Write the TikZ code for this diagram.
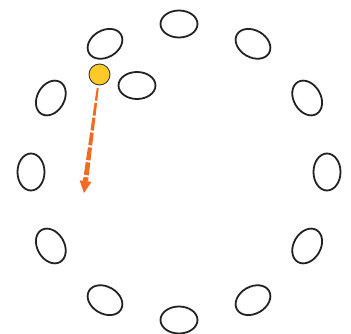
\documentclass[tikz,border=0pt]{standalone}
\usetikzlibrary{shapes.geometric,arrows.meta,calc}
\definecolor{ringcol}{HTML}{222222}
\definecolor{ballfill}{HTML}{FFC928}
\definecolor{arrcol}{HTML}{F26B22}
\begin{document}
\begin{tikzpicture}[x=1pt,y=-1pt,
  ring/.style={ellipse,draw=ringcol,line width=1.8pt,minimum width=37pt,minimum height=27pt,inner sep=0pt},
  ball/.style={circle,fill=ballfill,draw=ringcol!90,line width=0.9pt,minimum size=21pt,inner sep=0pt},
  arrbody/.style={fill=arrcol,draw=none},
  arrgap/.style={draw=white,line width=9pt,dash pattern=on 2pt off 13pt,dash phase=2pt}]
\useasboundingbox (0,0) rectangle (351,334);
\foreach \i in {0,...,11}{
  \node[ring,rotate=-30*\i] (e\i) at ({179+148*sin(30*\i)},{172-148*cos(30*\i)}) {};
}
\node[ring] (ex) at (137,85.5) {};
\node[ball] (b) at (99.5,74.5) {};
\coordinate (tip) at (84,193);
\coordinate (s) at ($(b)!13.5pt!(tip)$);
\coordinate (h) at ($(tip)!12pt!(b)$);
\coordinate (h2) at ($(tip)!11pt!(b)$);
% tapered shaft
\path[arrbody] ($(s)!1pt!90:(h)$) -- ($(h)!2.6pt!-90:(s)$) -- ($(h)!2.6pt!90:(s)$) -- ($(s)!1pt!-90:(h)$) -- cycle;
% white gaps
\draw[arrgap] (s) -- (h2);
% head
\path[arrbody] (tip) -- ($(h)!6pt!90:(s)$) -- ($(h)!6pt!-90:(s)$) -- cycle;
\end{tikzpicture}
\end{document}
